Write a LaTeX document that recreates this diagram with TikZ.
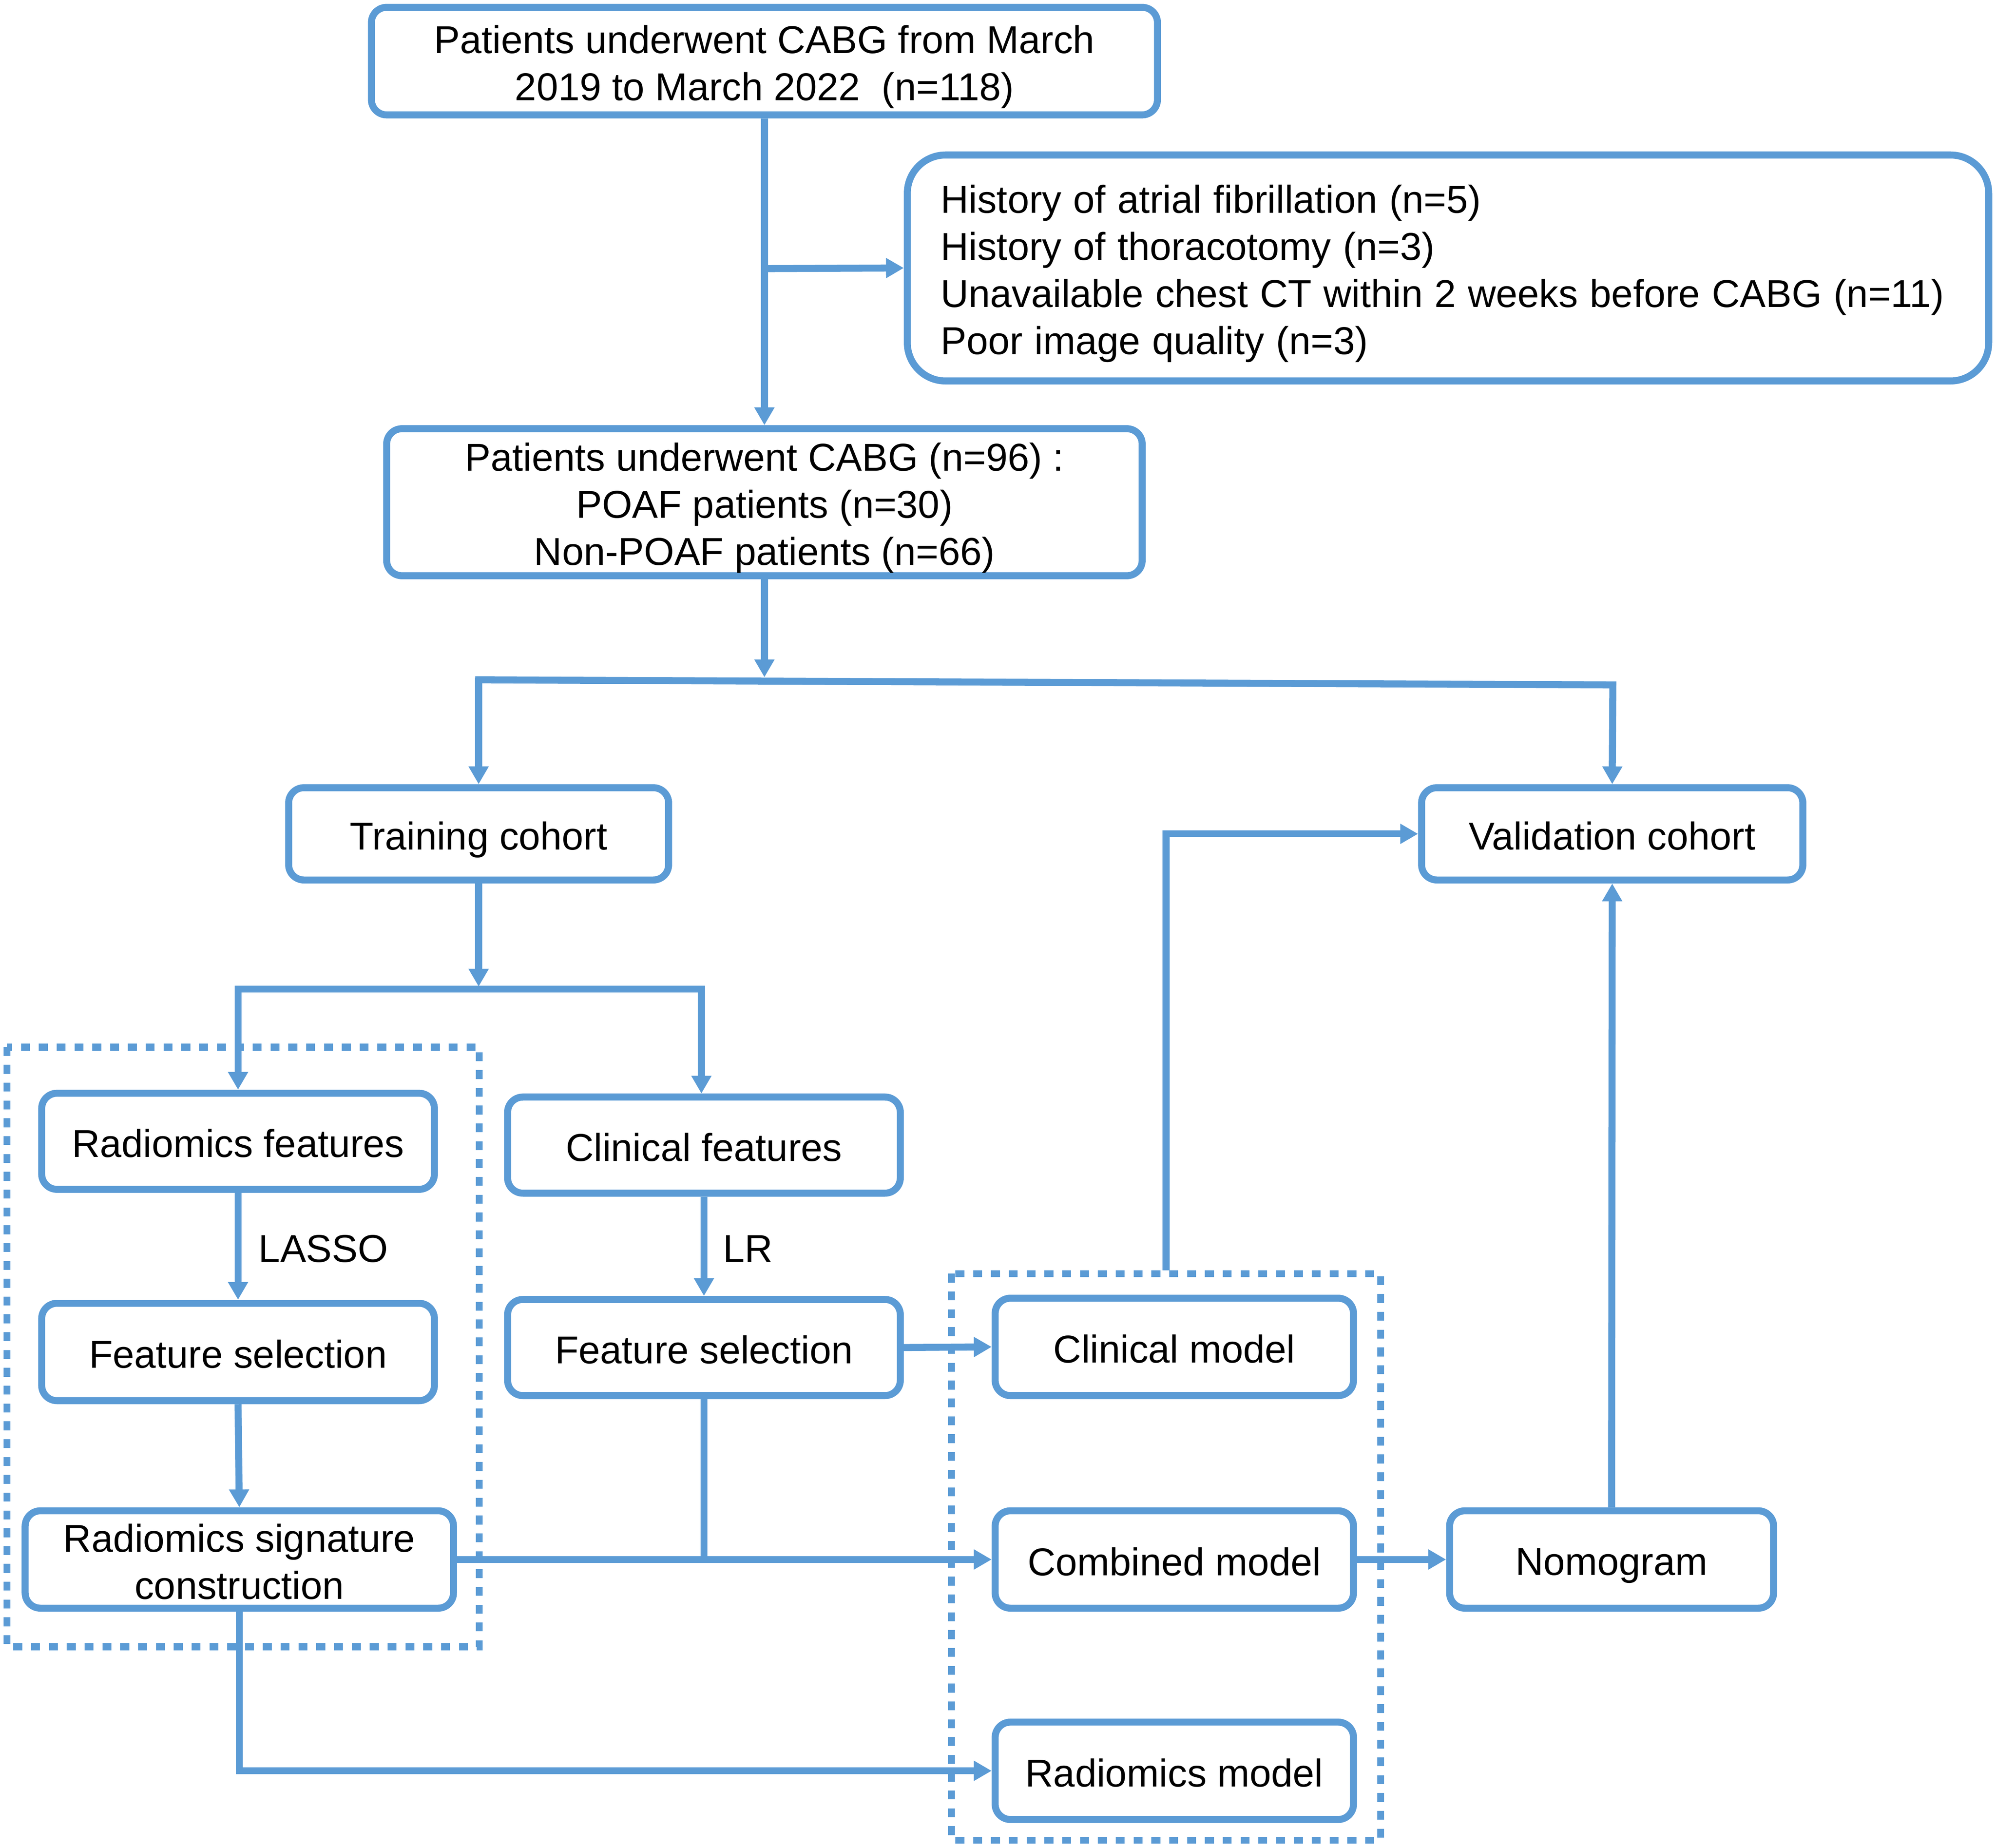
\documentclass[tikz,border=0pt]{standalone}
\usepackage{fontspec}
\setmainfont{Liberation Sans}
\usetikzlibrary{arrows.meta}
\definecolor{bl}{HTML}{5B9BD5}
\newcommand{\myfs}{\fontsize{30.5}{37}\selectfont}
\newcommand{\myfsw}{\fontsize{30.5}{37}\selectfont\spaceskip=9.3pt\relax}
\begin{document}
\begin{tikzpicture}[x=1pt,y=-1pt,
  box/.style={draw=bl, line width=5.5pt, rounded corners=12pt, fill=white, align=flush center, inner sep=0pt, font=\myfs,
    execute at begin node={\rule{0pt}{31pt}}, execute at end node={\rule[-6pt]{0pt}{6pt}}},
  arr/.style={draw=bl, line width=5.5pt, -{Triangle[length=14pt,width=15pt]}},
  ln/.style={draw=bl, line width=5.5pt, line cap=rect},
  dotbox/.style={draw=bl, line width=5.5pt, dash pattern=on 7pt off 7pt},
  lbl/.style={font=\myfs, inner sep=0pt, anchor=west}]
\useasboundingbox (0,0) rectangle (1568,1451.6);
% dotted groups
\draw[dotbox] (5.5,822.5) rectangle (376.5,1293.5);
\draw[dotbox] (747.5,1000.5) rectangle (1084.5,1445.5);
% boxes
\node[box, minimum width=617.5pt, minimum height=84.5pt, text width=600pt] (b1) at (600.5,48) {Patients underwent CABG from March\\2019 to March 2022~ (n=118)};
\node[box, rounded corners=30pt, minimum width=849.5pt, minimum height=177.5pt, text width=797pt, align=flush left, inner xsep=26.25pt, font=\myfsw] (b2) at (1137.5,210.5) {History of atrial fibrillation (n=5)\\History of thoracotomy (n=3)\\Unavailable chest CT within 2 weeks before CABG (n=11)\\Poor image quality (n=3)};
\node[box, minimum width=593.5pt, minimum height=115.5pt, text width=580pt] (b3) at (600.5,394.5) {Patients underwent CABG (n=96) :\\POAF patients (n=30)\\Non-POAF patients (n=66)};
\node[box, minimum width=298.5pt, minimum height=72.5pt] (train) at (376,655) {Training cohort};
\node[box, minimum width=299.5pt, minimum height=72.5pt] (valid) at (1266.5,655) {Validation cohort};
\node[box, minimum width=308.5pt, minimum height=75.5pt] (rf) at (187,896.5) {Radiomics features};
\node[box, minimum width=308.5pt, minimum height=76.5pt] (fsl) at (187,1062) {Feature selection};
\node[box, minimum width=336.5pt, minimum height=76.5pt, text width=330pt] (rs) at (188,1225) {Radiomics signature\\construction};
\node[box, minimum width=308.5pt, minimum height=75.5pt] (cf) at (553,899.5) {Clinical features};
\node[box, minimum width=308.5pt, minimum height=75.5pt] (fsm) at (553,1058.5) {Feature selection};
\node[box, minimum width=281.5pt, minimum height=76.5pt] (cmod) at (922.5,1058) {Clinical model};
\node[box, minimum width=281.5pt, minimum height=76.5pt] (cb) at (922.5,1225) {Combined model};
\node[box, minimum width=281.5pt, minimum height=76.5pt] (rm) at (922.5,1391) {Radiomics model};
\node[box, minimum width=254.5pt, minimum height=76.5pt] (nm) at (1266,1225) {Nomogram};
% labels
\node[lbl] (lasso) at (203,981) {LASSO};
\node[lbl] (lr) at (568,981) {LR};
% coordinates
\coordinate (m) at (600.5,211);
\coordinate (sM) at (600.5,532);
\coordinate (sL) at (376,534);
\coordinate (sR) at (1267,538);
\coordinate (tM) at (376,775);
\coordinate (tL) at (187,777);
\coordinate (tR) at (551,777);
\coordinate (j) at (553,1225);
\coordinate (cm) at (916,998);
% connectors
\draw[arr] (b1.south) -- (b3.north);
\draw[arr] (m) -- (b2.west);
\draw[arr] (b3.south) -- (sM);
\draw[ln] (sL) -- (sR);
\draw[arr] (sL) -- (train.north);
\draw[arr] (sR) -- (valid.north);
\draw[arr] (train.south) -- (tM);
\draw[ln] (tL) -- (tR);
\draw[arr] (tL) -- (rf.north);
\draw[arr] (tR) -- (tR |- cf.north);
\draw[arr] (rf.south) -- (fsl.north);
\draw[arr] (fsl.south) -- (rs.north);
\draw[arr] (cf.south) -- (fsm.north);
\draw[arr] (fsm.east) -- (cmod.west);
\draw[ln] (fsm.south) -- (j);
\draw[arr] (rs.east) -- (cb.west);
\draw[arr] (rs.south) |- (rm.west);
\draw[arr] (cb.east) -- (nm.west);
\draw[arr] (nm.north) -- (valid.south);
\draw[arr] (cm) |- (valid.west);
\end{tikzpicture}
\end{document}
